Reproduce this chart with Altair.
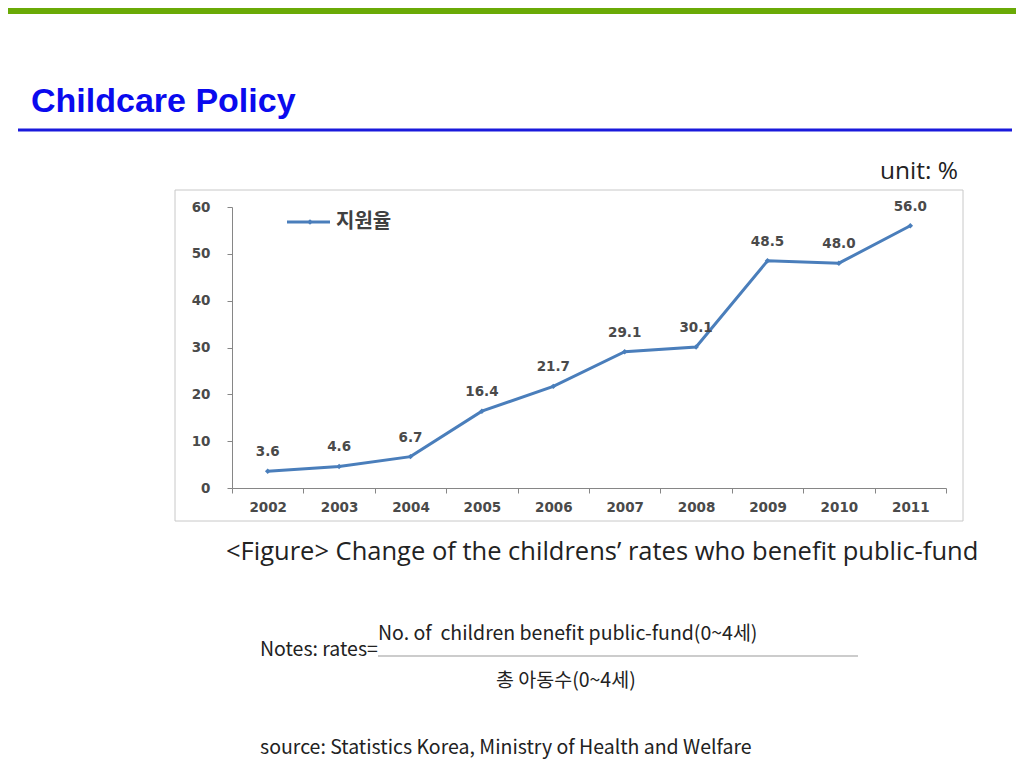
import altair as alt
import pandas as pd

years = ["2002", "2003", "2004", "2005", "2006", "2007", "2008", "2009", "2010", "2011"]
rates = [3.6, 4.6, 6.7, 16.4, 21.7, 29.1, 30.1, 48.5, 48.0, 56.0]
rate_labels = ["3.6", "4.6", "6.7", "16.4", "21.7", "29.1", "30.1", "48.5", "48.0", "56.0"]
y_ticks = [0, 10, 20, 30, 40, 50, 60]
series_name = "지원율"

title_text = "Childcare Policy"
unit_text = "unit: %"
caption_text = "<Figure> Change of the childrens\u2019 rates who benefit public-fund"
notes_lead = "Notes: rates="
notes_num = "No. of \u00a0children benefit public-fund(0~4세)"
notes_den = "총 아동수(0~4세)"
source_text = "source: Statistics Korea, Ministry of Health and Welfare"

df = pd.DataFrame({"year": years, "rate": rates, "label": rate_labels})

KFONT = "Noto Sans CJK KR"
OFONT = "Open Sans"
AFONT = "DejaVu Sans"
LINE = "#4a7ebb"
one = alt.Data(values=[{}])

base = alt.Chart(df)
x_enc = alt.X(
    "year:O",
    scale=alt.Scale(type="band", paddingInner=0, paddingOuter=0),
    axis=alt.Axis(title=None, labelAngle=0, tickBand="extent", tickSize=5,
                  labelPadding=7, zindex=1),
)
y_enc = alt.Y(
    "rate:Q",
    scale=alt.Scale(domain=[0, 60], nice=False, zero=True),
    axis=alt.Axis(title=None, values=y_ticks, grid=False, tickSize=5,
                  labelPadding=17, zindex=1),
)

line = base.mark_line(color=LINE, strokeWidth=3).encode(x=x_enc, y=y_enc)
pts = base.mark_point(shape="diamond", filled=True, color=LINE, size=30, opacity=1).encode(
    x=alt.X("year:O"), y=alt.Y("rate:Q"))
lbls = base.mark_text(dy=-19, font=AFONT, fontWeight="bold", fontSize=13.5, color="#4a4a4a").encode(
    x=alt.X("year:O"), y=alt.Y("rate:Q"), text="label:N")

def txt(text, x, y, **kw):
    return alt.Chart(one).mark_text(text=text, **kw).encode(x=alt.value(x), y=alt.value(y))

# frame of the embedded chart image
frame = alt.Chart(one).mark_rect(filled=False, stroke="#c8c8c8", strokeWidth=1).encode(
    x=alt.value(-57), x2=alt.value(731), y=alt.value(-17), y2=alt.value(314))

# top green band
green = alt.Chart(one).mark_rect(color="#6aaa06").encode(
    x=alt.value(-240), x2=alt.value(800), y=alt.value(-215), y2=alt.value(-193))
blue_rule = alt.Chart(one).mark_rule(color="#1a1adc", strokeWidth=3).encode(
    x=alt.value(-214), x2=alt.value(780), y=alt.value(-77))
title = txt(title_text, -201, -95, font="Liberation Sans", fontWeight="bold", fontSize=34,
            color="#0a0aee", align="left", baseline="alphabetic")
unit = txt(unit_text, 726, -35, font=OFONT, fontSize=24.5, color="#222222", align="right", baseline="middle")

# legend
leg_line = alt.Chart(one).mark_rule(color=LINE, strokeWidth=3).encode(
    x=alt.value(55), x2=alt.value(98), y=alt.value(15))
leg_pt = alt.Chart(one).mark_point(shape="diamond", filled=True, color=LINE, size=30, opacity=1).encode(
    x=alt.value(78), y=alt.value(15))
leg_txt = txt(series_name, 104, 15, font=KFONT, fontSize=20, fontWeight="bold", color="#404040",
              align="left", baseline="middle")

caption = txt(caption_text, -6, 345, font=OFONT, fontSize=25.5, color="#222222", align="left", baseline="middle")
n_lead = txt(notes_lead, 28, 443, font=KFONT, fontSize=19.5, color="#222222", align="left", baseline="middle")
n_num = txt(notes_num, 146, 427, font=KFONT, fontSize=19.5, color="#222222", align="left", baseline="middle")
n_rule = alt.Chart(one).mark_rule(color="#999999", strokeWidth=1).encode(
    x=alt.value(146), x2=alt.value(626), y=alt.value(449))
n_den = txt(notes_den, 264, 474, font=KFONT, fontSize=19.5, color="#222222", align="left", baseline="middle")
src = txt(source_text, 28, 541, font=KFONT, fontSize=19.5, color="#222222", align="left", baseline="middle")

chart = alt.layer(
    frame, green, blue_rule, title, unit, line, pts, lbls, leg_line, leg_pt, leg_txt,
    caption, n_lead, n_num, n_rule, n_den, src,
).properties(
    width=714, height=281,
    autosize=alt.AutoSizeParams(type="none"),
    padding={"left": 224, "top": 199, "right": 70, "bottom": 272},
    background="white",
).configure_view(stroke=None).configure_axis(
    labelFont=AFONT, labelFontSize=13.5, labelFontWeight="bold", labelColor="#4a4a4a",
    domainColor="#868686", tickColor="#868686", domainWidth=1,
)

chart.save("out.html", embed_options={"renderer": "svg", "actions": False})
